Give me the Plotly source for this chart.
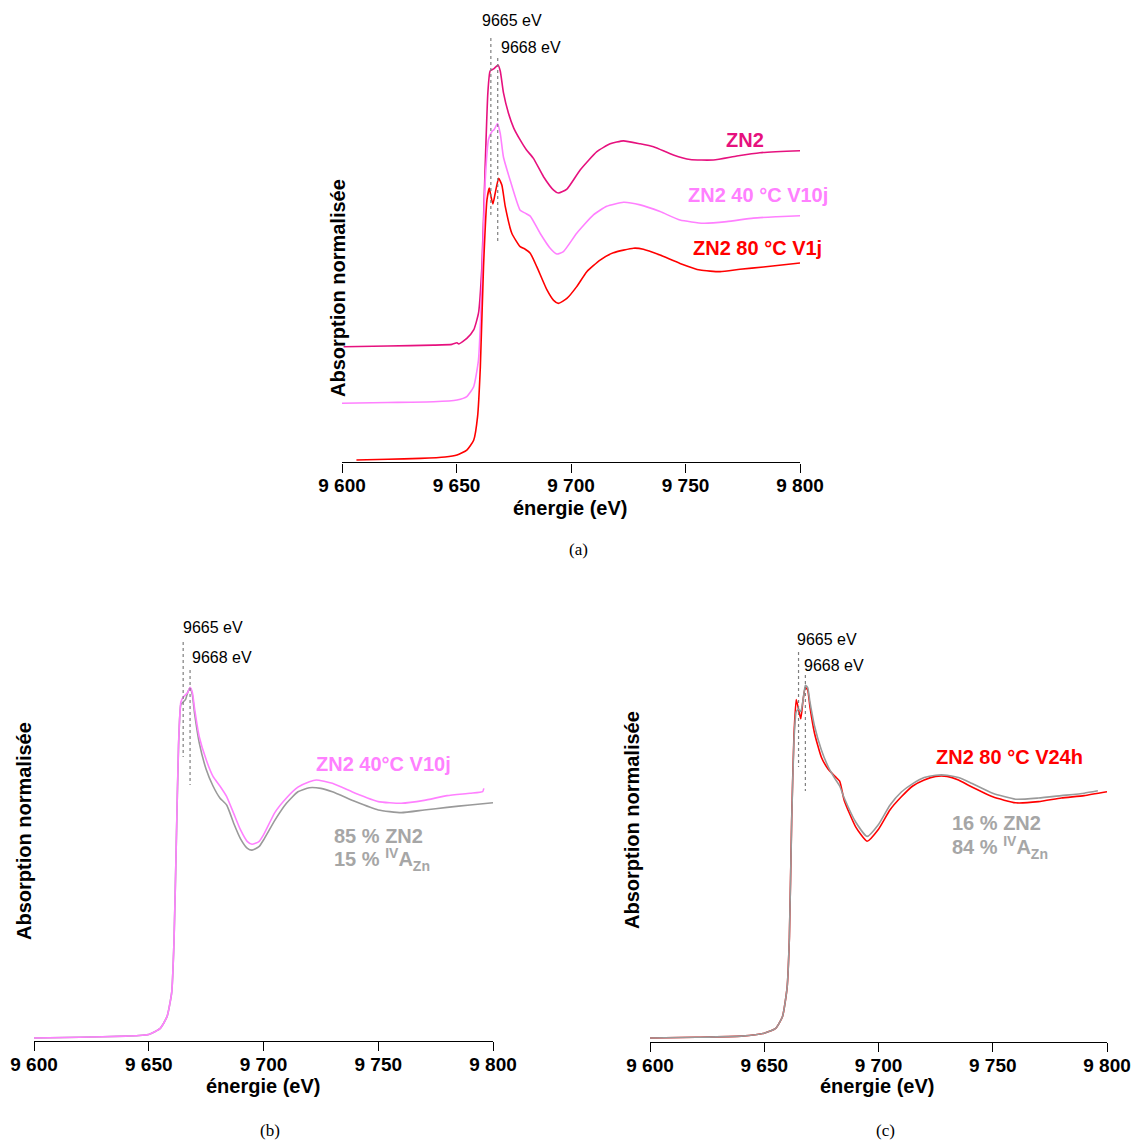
import plotly.graph_objects as go

W, H = 1134, 1142

# ---------------- data ----------------
# Panel (a): ZN2
energy_a_zn2 = [9600.7, 9620, 9640, 9648, 9650.2, 9651, 9654.5, 9657.5, 9659.6, 9661.1, 9662.5, 9663.7, 9664.7,
                9666.2, 9668.1, 9669.1, 9670.5, 9672.7, 9675, 9677.8, 9680.5, 9683.6, 9688, 9692.4, 9694.5,
                9698.2, 9704, 9711.3, 9717.1, 9722.9, 9730.2, 9736, 9744.7, 9752, 9762.2, 9772.4, 9782.5, 9800]
absorb_a_zn2 = [0, 0.004, 0.008, 0.012, 0.02, 0.014, 0.042, 0.085, 0.17, 0.41, 0.91, 1.29, 1.40,
                1.41, 1.43, 1.40, 1.29, 1.185, 1.11, 1.05, 1.0, 0.956, 0.863, 0.795, 0.78,
                0.80, 0.897, 0.99, 1.03, 1.045, 1.03, 1.015, 0.973, 0.95, 0.948, 0.968, 0.985, 0.995]

# Panel (a): ZN2 40 °C V10j
energy_a_40 = [9600, 9620, 9640, 9650.2, 9654.5, 9657.5, 9659.6, 9661.1, 9662.5, 9664, 9665.5, 9666.5,
               9667.9, 9669.1, 9670.5, 9673.5, 9677.8, 9680, 9682.2, 9686.5, 9690.9, 9693.8, 9696.7,
               9702.5, 9709.8, 9715.6, 9722.9, 9730.2, 9738.9, 9747.6, 9757.8, 9768, 9779.6, 9789.8, 9800]
absorb_a_40 = [0, 0.004, 0.008, 0.017, 0.034, 0.084, 0.22, 0.61, 1.12, 1.34, 1.38, 1.39,
               1.42, 1.37, 1.25, 1.13, 0.98, 0.965, 0.95, 0.863, 0.787, 0.758, 0.77,
               0.863, 0.956, 1.0, 1.02, 1.007, 0.973, 0.93, 0.914, 0.922, 0.94, 0.947, 0.952]

# Panel (a): ZN2 80 °C V1j
energy_a_80 = [9606.3, 9620, 9634.2, 9645, 9650.2, 9654.5, 9657.5, 9659.2, 9660.4, 9661.8, 9663.3, 9664.3,
               9665, 9665.9, 9666.9, 9668.4, 9669.8, 9671.3, 9674.2, 9677.8, 9680, 9682.2, 9685.1, 9689.5,
               9692.4, 9694.5, 9698.2, 9702.5, 9706.9, 9712.7, 9718.5, 9727.3, 9731.6, 9738.9, 9747.6,
               9756.4, 9765.1, 9773.8, 9784, 9800]
absorb_a_80 = [0, 0.004, 0.008, 0.015, 0.025, 0.05, 0.10, 0.22, 0.47, 0.98, 1.32, 1.38,
               1.34, 1.30, 1.354, 1.43, 1.396, 1.286, 1.15, 1.083, 1.07, 1.05, 0.98, 0.863,
               0.81, 0.795, 0.82, 0.88, 0.956, 1.015, 1.052, 1.075, 1.07, 1.04, 0.998,
               0.964, 0.956, 0.968, 0.98, 1.0]

# vertical stacking offsets in panel (a)
offsets_a = {"ZN2": 0.575, "40": 0.288, "80": 0.0}

# Panel (b): ZN2 40°C V10j and fit (85 % ZN2 + 15 % IV-A_Zn)
energy_b_40 = [9600, 9620, 9640, 9650, 9655, 9658, 9660, 9661, 9662, 9663, 9664, 9665, 9666, 9667, 9668,
               9669, 9670, 9672, 9675, 9678, 9681, 9684, 9687, 9690, 9693, 9695, 9698, 9700, 9705, 9710,
               9715, 9720, 9723, 9730, 9740, 9750, 9760, 9770, 9780, 9790, 9795.5, 9796]
absorb_b_40 = [0, 0.003, 0.008, 0.015, 0.04, 0.09, 0.19, 0.40, 0.81, 1.23, 1.40, 1.42, 1.43, 1.44, 1.46,
               1.44, 1.37, 1.255, 1.16, 1.09, 1.05, 1.005, 0.936, 0.867, 0.818, 0.807, 0.818, 0.846, 0.94, 1.0,
               1.045, 1.068, 1.075, 1.061, 1.02, 0.985, 0.978, 0.99, 1.01, 1.02, 1.027, 1.04]

energy_b_fit = [9600, 9620, 9640, 9650, 9655, 9658, 9660, 9661, 9662, 9663, 9664, 9665, 9666, 9667, 9668,
                9669, 9670, 9672, 9675, 9678, 9681, 9684, 9687, 9690, 9693, 9695, 9698, 9700, 9705, 9710,
                9715, 9720, 9725, 9730, 9740, 9750, 9760, 9770, 9780, 9790, 9800]
absorb_b_fit = [0, 0.003, 0.008, 0.015, 0.04, 0.09, 0.19, 0.40, 0.81, 1.22, 1.39, 1.40, 1.41, 1.44, 1.46,
                1.43, 1.35, 1.23, 1.12, 1.05, 1.0, 0.97, 0.895, 0.83, 0.79, 0.783, 0.797, 0.825, 0.908, 0.978,
                1.026, 1.043, 1.04, 1.026, 0.985, 0.95, 0.939, 0.95, 0.961, 0.971, 0.98]

# Panel (c): ZN2 80 °C V24h and fit (16 % ZN2 + 84 % IV-A_Zn)
energy_c_80 = [9600, 9620, 9640, 9650, 9655, 9658, 9660, 9661, 9662, 9663, 9664, 9665, 9666, 9667, 9668,
               9669, 9670, 9672, 9675, 9678, 9681, 9683, 9685, 9690, 9695, 9700, 9705, 9710, 9715, 9720,
               9725, 9730, 9735, 9740, 9750, 9760, 9770, 9780, 9790, 9800]
absorb_c_80 = [0, 0.003, 0.008, 0.02, 0.04, 0.09, 0.21, 0.42, 0.91, 1.26, 1.41, 1.37, 1.33, 1.41, 1.46,
               1.45, 1.38, 1.27, 1.17, 1.12, 1.09, 1.07, 0.99, 0.88, 0.82, 0.87, 0.95, 1.005, 1.05, 1.075,
               1.09, 1.09, 1.075, 1.05, 1.005, 0.98, 0.985, 1.0, 1.01, 1.026]

energy_c_fit = [9600, 9620, 9640, 9650, 9655, 9658, 9660, 9661, 9662, 9663, 9664, 9665, 9666, 9667, 9668,
                9669, 9670, 9672, 9675, 9678, 9681, 9683, 9685, 9690, 9695, 9700, 9705, 9710, 9715, 9720,
                9725, 9730, 9735, 9740, 9750, 9760, 9770, 9780, 9790, 9796]
absorb_c_fit = [0, 0.003, 0.008, 0.02, 0.04, 0.09, 0.21, 0.42, 0.90, 1.24, 1.36, 1.37, 1.36, 1.41, 1.47,
                1.46, 1.40, 1.30, 1.20, 1.13, 1.08, 1.05, 1.00, 0.90, 0.84, 0.89, 0.97, 1.025, 1.06, 1.085,
                1.095, 1.095, 1.085, 1.065, 1.02, 0.995, 1.0, 1.01, 1.02, 1.03]

peak_energies = [9665, 9668]
peak_labels = ["9665 eV", "9668 eV"]
tick_vals = [9600, 9650, 9700, 9750, 9800]
tick_text = ["9 600", "9 650", "9 700", "9 750", "9 800"]

# ---------------- styles ----------------
C_ZN2 = "#E6117E"
C_40 = "#FF80FF"
C_80 = "#FF0000"
C_GREY_LINE = "#9A9A9A"
C_GREY_TEXT = "#A6A6A6"
SANS = "Liberation Sans, Arial, sans-serif"
SERIF = "Liberation Serif, DejaVu Serif, serif"
LW = 1.6
SMOOTH = 0.5


def px(x):
    return x / W


def py(y):
    return 1 - y / H


fig = go.Figure()


def add_line(x, y, color, xa, ya):
    fig.add_trace(go.Scatter(x=x, y=y, mode="lines",
                             line=dict(color=color, width=LW, shape="spline", smoothing=SMOOTH),
                             xaxis=xa, yaxis=ya, showlegend=False, hoverinfo="skip"))


# panel (a)
add_line(energy_a_zn2, [v + offsets_a["ZN2"] for v in absorb_a_zn2], C_ZN2, "x", "y")
add_line(energy_a_40, [v + offsets_a["40"] for v in absorb_a_40], C_40, "x", "y")
add_line(energy_a_80, [v + offsets_a["80"] for v in absorb_a_80], C_80, "x", "y")
# panel (b)
add_line(energy_b_fit, absorb_b_fit, C_GREY_LINE, "x2", "y2")
add_line(energy_b_40, absorb_b_40, C_40, "x2", "y2")
# panel (c)
add_line(energy_c_80, absorb_c_80, C_80, "x3", "y3")
add_line(energy_c_fit, absorb_c_fit, C_GREY_LINE, "x3", "y3")

xcommon = dict(range=[9600, 9800], tickvals=tick_vals, ticktext=[f"<b>{t}</b>" for t in tick_text],
               showgrid=False, zeroline=False, automargin=False,
               showline=True, linecolor="black", linewidth=1.4, ticks="outside", ticklen=9, tickwidth=1.4,
               tickcolor="black", ticklabelstandoff=-3,
               tickfont=dict(family=SANS, size=19, color="black"))
ycommon = dict(showgrid=False, zeroline=False, showline=False, showticklabels=False, ticks="",
               automargin=False)

fig.update_layout(
    width=W, height=H, autosize=False,
    margin=dict(l=0, r=0, t=0, b=0, pad=0, autoexpand=False),
    paper_bgcolor="white", plot_bgcolor="white",
    xaxis=dict(domain=[px(342), px(800)], anchor="y", **xcommon),
    yaxis=dict(domain=[py(462.3), py(40)], anchor="x", range=[-2.3 / 197, 420 / 197], **ycommon),
    xaxis2=dict(domain=[px(34), px(493)], anchor="y2", **xcommon),
    yaxis2=dict(domain=[py(1041), py(600)], anchor="x2", range=[-3 / 240, 438 / 240], **ycommon),
    xaxis3=dict(domain=[px(650), px(1107)], anchor="y3", **xcommon),
    yaxis3=dict(domain=[py(1042), py(600)], anchor="x3", range=[-4 / 240, 438 / 240], **ycommon),
)

# dotted reference lines at the peak energies (y extents in paper pixels)
line_extent = {
    "x": [(38, 215), (58, 243)],
    "x2": [(642, 757), (670, 785)],
    "x3": [(652, 767), (675, 791)],
}
for xr, extents in line_extent.items():
    for e, (y0, y1) in zip(peak_energies, extents):
        fig.add_shape(type="line", xref=xr, yref="paper", x0=e, x1=e, y0=py(y0), y1=py(y1),
                      line=dict(color="#7F7F7F", width=1.2, dash="dot"))

# peak labels
label_pos = {
    "x": [(512, 21), (531, 48)],
    "x2": [(213, 627), (222, 657)],
    "x3": [(827, 639), (834, 665)],
}
for xr, pos in label_pos.items():
    for txt, (xx, yy) in zip(peak_labels, pos):
        fig.add_annotation(x=px(xx), y=py(yy), xref="paper", yref="paper", text=txt, showarrow=False,
                           xanchor="center", yanchor="middle", font=dict(family=SANS, size=16, color="black"))


def ann(text, x, y, color, size=20, bold=True, xanchor="center", family=SANS, angle=0):
    fig.add_annotation(x=px(x), y=py(y), xref="paper", yref="paper",
                       text=f"<b>{text}</b>" if bold else text, showarrow=False,
                       xanchor=xanchor, yanchor="middle", textangle=angle,
                       font=dict(family=family, size=size, color=color))


# series labels
ann("ZN2", 745, 140, C_ZN2)
ann("ZN2 40 °C V10j", 758, 195, C_40)
ann("ZN2 80 °C V1j", 757, 248, C_80)
ann("ZN2 40°C V10j", 383, 764, C_40)
ann("85 % ZN2", 332, 836, C_GREY_TEXT, xanchor="left")
ann("15 % <sup>IV</sup>A<sub>Zn</sub>", 332, 859, C_GREY_TEXT, xanchor="left")
ann("ZN2 80 °C V24h", 1009, 757, C_80)
ann("16 % ZN2", 950, 823, C_GREY_TEXT, xanchor="left")
ann("84 % <sup>IV</sup>A<sub>Zn</sub>", 950, 848, C_GREY_TEXT, xanchor="left")

# axis titles
ann("énergie (eV)", 570, 508, "black")
ann("énergie (eV)", 263, 1086, "black")
ann("énergie (eV)", 877, 1086, "black")
ann("Absorption normalisée", 338, 288, "black", angle=-90)
ann("Absorption normalisée", 24, 831, "black", angle=-90)
ann("Absorption normalisée", 632, 820, "black", angle=-90)

# captions
ann("(a)", 578, 550, "black", size=17, bold=False, family=SERIF)
ann("(b)", 270, 1130, "black", size=17, bold=False, family=SERIF)
ann("(c)", 885, 1130, "black", size=17, bold=False, family=SERIF)

fig.write_html("out.html", post_script="document.body.style.margin='0';",
               config={"displayModeBar": False})
